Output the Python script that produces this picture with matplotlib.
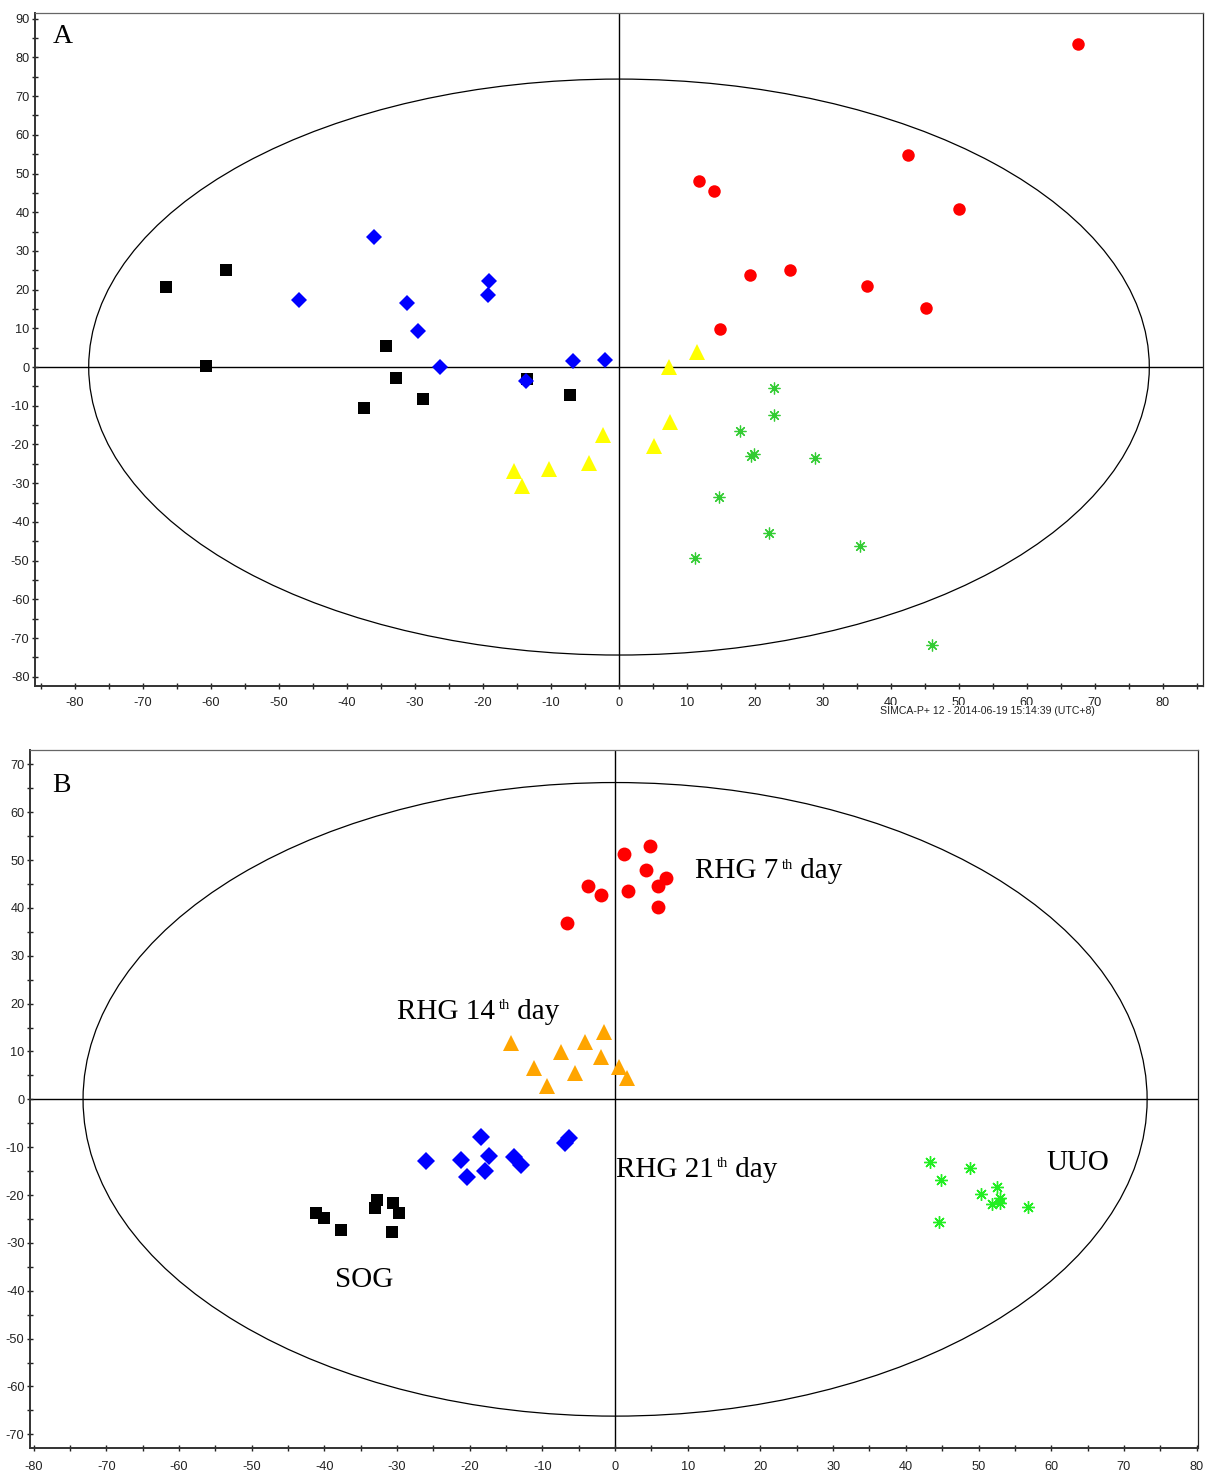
import matplotlib
matplotlib.use("Agg")
import matplotlib.pyplot as plt
from matplotlib.patches import Ellipse
from matplotlib.ticker import MultipleLocator

plt.rcParams['font.family'] = ['Liberation Sans', 'DejaVu Sans']
plt.rcParams['axes.unicode_minus'] = False

# ---- Panel A data ----
a_sog_x = [-66.6, -57.8, -60.7, -34.3, -32.8, -37.5, -28.8, -13.5, -7.2]
a_sog_y = [20.7, 25.1, 0.3, 5.4, -2.8, -10.6, -8.3, -3.1, -7.2]

a_d21_x = [-36.0, -47.1, -31.2, -29.6, -26.3, -19.1, -19.3, -13.7, -6.8, -2.1]
a_d21_y = [33.6, 17.3, 16.5, 9.3, 0.0, 22.2, 18.6, -3.6, 1.6, 1.8]

a_d7_x = [67.5, 42.5, 50.0, 11.8, 14.0, 19.3, 25.2, 36.5, 45.2, 14.9]
a_d7_y = [83.5, 54.7, 40.8, 48.1, 45.6, 23.7, 25.2, 21.0, 15.2, 9.9]

a_d14_x = [11.5, 7.3, 7.5, 5.1, -2.4, -4.4, -10.3, -15.4, -14.3]
a_d14_y = [4.0, 0.1, -14.2, -20.4, -17.6, -24.8, -26.4, -26.9, -30.7]

a_uuo_x = [22.8, 22.8, 17.8, 19.4, 19.8, 28.9, 14.75, 22.1, 35.4, 11.2, 46.0]
a_uuo_y = [-5.5, -12.4, -16.5, -22.9, -22.5, -23.4, -33.6, -43.0, -46.3, -49.3, -71.8]

a_ellipse = (78.0, 74.4)

# ---- Panel B data ----
b_sog_x = [-41.1, -40.0, -37.7, -32.7, -33.0, -30.5, -29.7, -30.7]
b_sog_y = [-23.7, -24.9, -27.3, -21.0, -22.8, -21.7, -23.8, -27.7]

b_d21_x = [-26.0, -21.2, -18.4, -17.3, -20.4, -17.9, -13.9, -12.9, -6.4, -6.9]
b_d21_y = [-12.8, -12.7, -7.8, -11.8, -16.3, -14.9, -12.1, -13.7, -8.0, -9.2]

b_d7_x = [4.85, 1.24, 4.3, 7.0, 5.95, -3.7, -1.9, 1.75, 5.95, -6.6]
b_d7_y = [53.0, 51.2, 47.9, 46.2, 44.6, 44.6, 42.7, 43.6, 40.2, 36.8]

b_d14_x = [-1.5, -14.3, -4.1, -7.5, -1.9, -11.2, -5.5, 0.6, 1.7, -9.3]
b_d14_y = [14.1, 11.7, 11.9, 9.8, 8.9, 6.6, 5.4, 6.8, 4.4, 2.8]

b_uuo_x = [43.3, 48.8, 44.9, 50.4, 52.5, 52.9, 51.9, 53.0, 56.8, 44.6]
b_uuo_y = [-13.2, -14.4, -16.9, -19.8, -18.4, -20.7, -21.9, -21.7, -22.4, -25.7]

b_ellipse = (73.2, 66.2)

# group labels: (main part, superscript, rest)
b_labels = [('RHG 7', 'th', ' day'), ('RHG 14', 'th', ' day'),
            ('RHG 21', 'th', ' day'), ('UUO', '', ''), ('SOG', '', '')]
b_label_x = [11.0, -30.0, 0.1, 59.4, -38.6]
b_label_y = [46.2, 16.8, -16.2, -14.8, -39.2]

fig = plt.figure(figsize=(12.06, 14.77), dpi=100)
axA = fig.add_axes([35/1206, 1-686/1477, 1168/1206, 673.5/1477])
axB = fig.add_axes([30/1206, 1-1447.7/1477, 1168/1206, 697.7/1477])


def style_axes(ax, xlim, ylim, xpad):
    ax.set_xlim(*xlim)
    ax.set_ylim(*ylim)
    ax.xaxis.set_major_locator(MultipleLocator(10))
    ax.xaxis.set_minor_locator(MultipleLocator(5))
    ax.yaxis.set_major_locator(MultipleLocator(10))
    ax.yaxis.set_minor_locator(MultipleLocator(5))
    ax.tick_params(which='both', direction='inout', width=1, color='#222')
    ax.tick_params(which='major', length=5, labelsize=9.2, labelcolor='#222')
    ax.tick_params(which='minor', length=4.5)
    ax.tick_params(axis='x', pad=xpad)
    ax.tick_params(axis='y', pad=1.5)
    for side in ['left', 'bottom']:
        ax.spines[side].set_linewidth(1.4)
        ax.spines[side].set_color('#333')
    ax.spines['top'].set_linewidth(0.9)
    ax.spines['top'].set_color('#666')
    ax.spines['right'].set_linewidth(0.9)
    ax.spines['right'].set_color('#222')
    ax.axhline(0, color='black', lw=1, zorder=1)
    ax.axvline(0, color='black', lw=1, zorder=1)


# Panel A
style_axes(axA, (-85.9, 85.9), (-82.4, 91.6), 5.6)
axA.add_patch(Ellipse((0, 0), 2*a_ellipse[0], 2*a_ellipse[1], fill=False,
                      edgecolor='black', lw=0.9))
axA.plot(a_sog_x, a_sog_y, 's', color='black', ms=8.4, mew=0)
axA.plot(a_d21_x, a_d21_y, 'D', color='#0000ff', ms=8.6, mew=0)
axA.plot(a_d7_x, a_d7_y, 'o', color='#ff0000', ms=9, mew=0)
axA.plot(a_d14_x, a_d14_y, '^', color='#ffff00', ms=11, mew=0)
axA.plot(a_uuo_x, a_uuo_y, ls='none', marker=(8, 2, 0), color='#33cc33',
         ms=8.5, mew=0.9)
axA.text(0.0148, 0.955, 'A', transform=axA.transAxes, fontsize=20,
         family='Liberation Serif', va='baseline', ha='left')

# Panel B
style_axes(axB, (-80.5, 80.2), (-72.8, 73.0), 7.0)
axB.add_patch(Ellipse((0, 0), 2*b_ellipse[0], 2*b_ellipse[1], fill=False,
                      edgecolor='black', lw=0.9))
axB.plot(b_sog_x, b_sog_y, 's', color='black', ms=9.3, mew=0)
axB.plot(b_d21_x, b_d21_y, 'D', color='#0000ff', ms=9.2, mew=0)
axB.plot(b_d7_x, b_d7_y, 'o', color='#ff0000', ms=10, mew=0)
axB.plot(b_d14_x, b_d14_y, '^', color='#ffa500', ms=12, mew=0)
axB.plot(b_uuo_x, b_uuo_y, ls='none', marker=(8, 2, 0), color='#22ee22',
         ms=9, mew=1)
axB.text(0.019, 0.940, 'B', transform=axB.transAxes, fontsize=20,
         family='Liberation Serif', va='baseline', ha='left')

for (main, sup, rest), lx, ly in zip(b_labels, b_label_x, b_label_y):
    t1 = axB.text(lx, ly, main, fontsize=21, family='Liberation Serif',
                  va='baseline', ha='left')
    if sup:
        t2 = axB.annotate(sup, xy=(1, 0.6), xycoords=t1, xytext=(2.5, 0),
                          textcoords='offset points', fontsize=10.5,
                          family='Liberation Serif', va='baseline', ha='left')
        axB.annotate(rest, xy=(1, ly), xycoords=(t2, 'data'), xytext=(0, 0),
                     textcoords='offset points', fontsize=21,
                     family='Liberation Serif', va='baseline', ha='left')

fig.text(880/1206, 1-711/1477, 'SIMCA-P+ 12 - 2014-06-19 15:14:39 (UTC+8)',
         fontsize=7.6, color='#222', va='center', ha='left',
         bbox=dict(facecolor='white', edgecolor='none', pad=0.5))

fig.savefig('out.png', dpi=100)
